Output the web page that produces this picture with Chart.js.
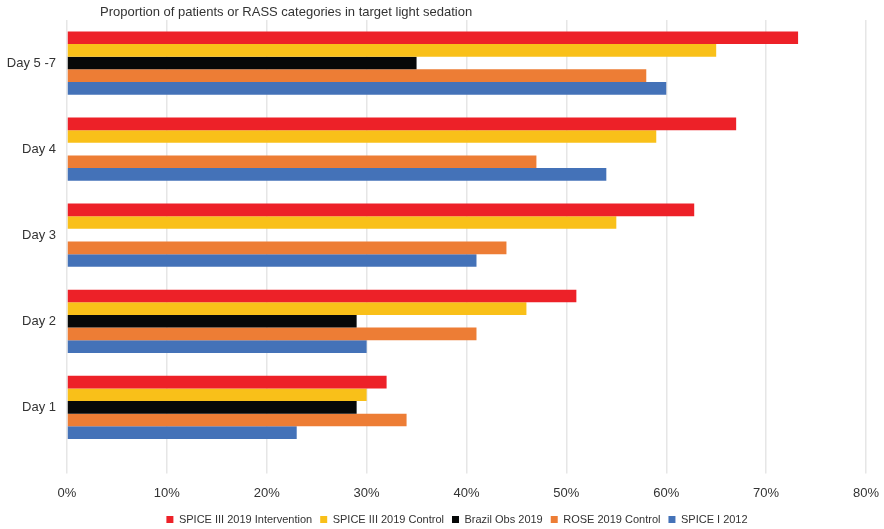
<!DOCTYPE html>
<html>
<head>
<meta charset="utf-8">
<script src="https://cdn.jsdelivr.net/npm/chart.js@4/dist/chart.umd.min.js"></script>
<style>
  html, body { margin: 0; padding: 0; background: #fff; }
  #wrap { width: 884px; height: 529px; position: relative; }
</style>
</head>
<body>
<div id="wrap"><canvas id="grafica"></canvas></div>
<script>
// categorias (de arriba hacia abajo)
const dias = ["Day 5 -7", "Day 4", "Day 3", "Day 2", "Day 1"];

// valores en %
const spice3Intervencion = [73.2, 67, 62.8, 51, 32];
const spice3Control = [65, 59, 55, 46, 30];
const brazilObs = [35, null, null, 29, 29];
const roseControl = [58, 47, 44, 41, 34];
const spice1 = [60, 54, 41, 30, 23];

const ticksX = [0, 10, 20, 30, 40, 50, 60, 70, 80];
const titulo = "Proportion of patients or RASS categories in target light sedation";

const fuente = "'Liberation Sans', Arial, Helvetica, sans-serif";

// titulo dibujado a mano para dejarlo en su sitio
const tituloPlugin = {
    id: "tituloPlugin",
    afterDraw(chart) {
        const ctx = chart.ctx;
        ctx.save();
        ctx.font = "13px " + fuente;
        ctx.fillStyle = "#333";
        ctx.textBaseline = "middle";
        ctx.textAlign = "left";
        ctx.fillText(titulo, 100, 12.5);
        ctx.restore();
    }
};

// mover la leyenda un poco (a la derecha y arriba)
const leyendaPlugin = {
    id: "leyendaPlugin",
    afterLayout(chart) {
        const l = chart.legend;
        if (!l) return;
        l.left += 24; l.right += 24;
        l.top -= 7; l.bottom -= 7;
    }
};

const $grafica = document.querySelector("#grafica");

new Chart($grafica, {
    type: "bar",
    data: {
        labels: dias,
        datasets: [
            { label: "SPICE III 2019 Intervention", data: spice3Intervencion, backgroundColor: "#ED2128" },
            { label: "SPICE III 2019 Control", data: spice3Control, backgroundColor: "#F9C019" },
            { label: "Brazil Obs 2019", data: brazilObs, backgroundColor: "#060808" },
            { label: "ROSE 2019 Control", data: roseControl, backgroundColor: "#ED7D35" },
            { label: "SPICE I 2012", data: spice1, backgroundColor: "#4472B8" }
        ]
    },
    options: {
        indexAxis: "y",
        responsive: true,
        maintainAspectRatio: false,
        animation: false,
        layout: { padding: { top: 20, left: 0, right: 18, bottom: -13 } },
        datasets: {
            bar: { categoryPercentage: 0.735, barPercentage: 1.0, borderWidth: 0 }
        },
        scales: {
            x: {
                min: 0,
                max: 80,
                afterBuildTicks(scale) {
                    scale.ticks = ticksX.map(v => ({ value: v }));
                },
                afterFit(scale) {
                    scale.paddingLeft = 0;
                    scale.paddingRight = 0;
                },
                ticks: {
                    callback: v => v + "%",
                    color: "#333",
                    font: { family: fuente, size: 13 },
                    padding: 12,
                    maxRotation: 0
                },
                grid: {
                    color: "#e6e6e6",
                    lineWidth: 1.5,
                    tickLength: 23,
                    tickColor: "#e6e6e6"
                },
                border: { display: false }
            },
            y: {
                afterFit(scale) { scale.width = 67; },
                ticks: {
                    color: "#333",
                    font: { family: fuente, size: 13 },
                    padding: 11
                },
                grid: { display: false, drawTicks: false },
                border: { display: false }
            }
        },
        plugins: {
            legend: {
                position: "bottom",
                labels: {
                    boxWidth: 7,
                    boxHeight: 7,
                    padding: 8,
                    color: "#333",
                    font: { family: fuente, size: 11 }
                }
            },
            title: { display: false },
            tooltip: { enabled: false }
        }
    },
    plugins: [tituloPlugin, leyendaPlugin]
});
</script>
</body>
</html>
